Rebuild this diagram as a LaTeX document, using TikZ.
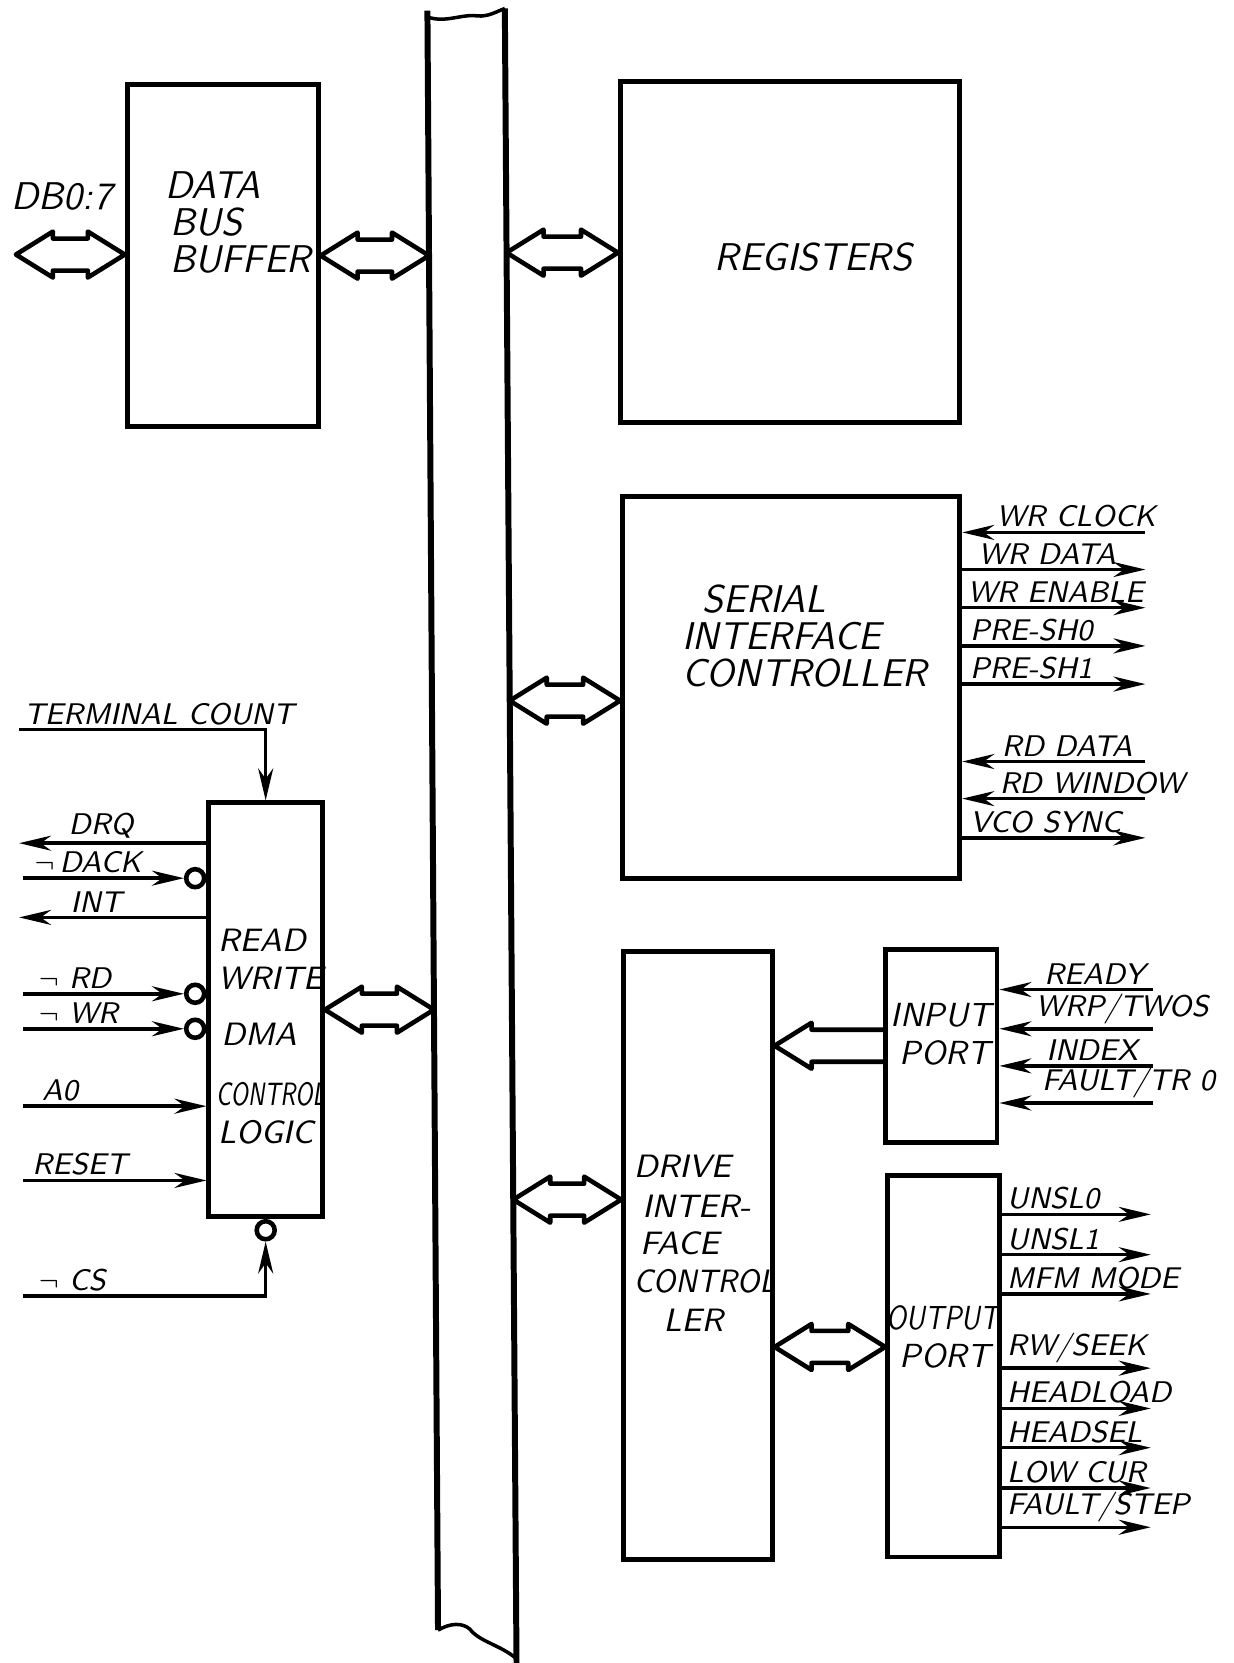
\documentclass[tikz,border=0pt]{standalone}
\usetikzlibrary{arrows.meta, positioning, fit, calc}

\newcommand{\headlen}{0.37cm}
\newcommand{\headwd}{0.23cm}
\newcommand{\shaftwd}{0.16cm}

\newcommand{\dblarrow}[2]{%
  \draw[fat] let \p1=(#1), \p2=(#2) in
    (\x1,\y1) -- (\x1+\headlen,\y1+\headwd) -- (\x1+\headlen,\y1+\shaftwd)
    -- (\x2-\headlen,\y1+\shaftwd) -- (\x2-\headlen,\y1+\headwd) -- (\x2,\y1)
    -- (\x2-\headlen,\y1-\headwd) -- (\x2-\headlen,\y1-\shaftwd)
    -- (\x1+\headlen,\y1-\shaftwd) -- (\x1+\headlen,\y1-\headwd) -- cycle;}

\newcommand{\fatarrow}[2]{%
  \draw[fat] let \p1=(#1), \p2=(#2) in
    (\x2,\y1+\shaftwd) -- (\x1+\headlen,\y1+\shaftwd) -- (\x1+\headlen,\y1+\headwd)
    -- (\x1,\y1) -- (\x1+\headlen,\y1-\headwd) -- (\x1+\headlen,\y1-\shaftwd)
    -- (\x2,\y1-\shaftwd);}

\begin{document}
\begin{tikzpicture}[x=0.0106cm, y=-0.0106cm,
    >={Stealth[length=3.2mm, width=1.5mm]},
    block/.style={draw, line width=1.4pt, inner sep=0pt},
    bus/.style={line width=1.7pt},
    fat/.style={line width=1.3pt, line join=round},
    sig/.style={line width=1pt},
    inward/.style={sig, <-},
    outward/.style={sig, ->},
    bubble/.style={circle, draw, line width=1.3pt, minimum size=0.18cm, inner sep=0pt},
    lbl/.style={anchor=south west, inner sep=1.2pt, font=\fontsize{8.5}{10}\selectfont\sffamily\slshape},
    bigtxt/.style={align=left, inner sep=0pt, font=\fontsize{11}{10.5}\selectfont\sffamily\slshape},
    midtxt/.style={anchor=west, inner sep=0pt, font=\fontsize{9.2}{11}\selectfont\sffamily\slshape},
    porttxt/.style={inner sep=0pt, font=\fontsize{9.5}{11}\selectfont\sffamily\slshape}
]
\useasboundingbox (0,0) rectangle (1163,1568);

\coordinate (busLt) at (403,10);
\coordinate (busLb) at (413,1537);
\coordinate (busRt) at (476,8);
\coordinate (busRb) at (487,1568);
\draw[bus] (busLt) -- (busLb);
\draw[bus] (busRt) -- (busRb);
\draw[line width=1pt] ($(busLt)+(0,6)$) .. controls (420,22) and (435,13) .. (450,15)
    .. controls (460,16) and (468,11) .. (busRt);
\draw[line width=1pt] (busLb) .. controls (425,1530) and (436,1530) .. (443,1536)
    .. controls (452,1548) and (472,1551) .. (487,1564);

\node[block, fit={(120,80) (300,402)}] (dbb) {};
\node[block, fit={(585,77) (905,398)}] (reg) {};
\node[block, fit={(587,468) (905,828)}] (sic) {};
\node[block, fit={(197,757) (304,1147)}] (rw) {};
\node[block, fit={(588,897) (728,1470)}] (dic) {};
\node[block, fit={(835,895) (940,1077)}] (inp) {};
\node[block, fit={(837,1108) (942,1468)}] (outp) {};

\node[bigtxt, anchor=west] at (155,210) {DATA\\\hspace*{0.05cm}BUS\\\hspace*{0.05cm}BUFFER};
\node[bigtxt] at (767,242) {REGISTERS};
\node[bigtxt, anchor=west] at (643,600) {\hspace*{0.2cm}SERIAL\\INTERFACE\\CONTROLLER};
\node[midtxt] at (205,887) {READ};
\node[midtxt] at (205,922) {WRITE};
\node[midtxt] at (208,975) {DMA};
\node[midtxt] at (203,1032) {\scalebox{0.7}[1]{CONTROL}};
\node[midtxt] at (205,1068) {LOGIC};
\node[midtxt] at (597,1100) {DRIVE};
\node[midtxt] at (605,1137) {INTER-};
\node[midtxt] at (603,1172) {FACE};
\node[midtxt] at (597,1208) {\scalebox{0.91}[1]{CONTROL}};
\node[midtxt] at (625,1245) {LER};
\node[porttxt] at (887,957) {INPUT};
\node[porttxt] at (891,993) {PORT};
\node[porttxt] at (889,1243) {\scalebox{0.82}[1]{OUTPUT}};
\node[porttxt] at (891,1278) {PORT};

\coordinate (db) at (15,240);
\node[anchor=west, inner sep=0pt, font=\fontsize{11}{12}\selectfont\sffamily\slshape] at (10,185) {DB0:7};
\dblarrow{db}{dbb.west}
\dblarrow{dbb.east}{$(busLt)!(dbb.east)!(busLb)$}
\dblarrow{$(busRt)!(reg.west)!(busRb)$}{reg.west}
\coordinate (sicin) at ($(sic.west)+(0,12)$);
\dblarrow{$(busRt)!(sicin)!(busRb)$}{sicin}
\dblarrow{rw.east}{$(busLt)!(rw.east)!(busLb)$}
\coordinate (dicin) at ($(dic.west)+(0,-53)$);
\dblarrow{$(busRt)!(dicin)!(busRb)$}{dicin}
\fatarrow{dic.east |- inp.west}{inp.west}
\coordinate (outin) at ($(outp.west)+(0,-18)$);
\dblarrow{dic.east |- outin}{outin}

\foreach \yy/\xx/\dir/\txt in {502/935/inward/WR CLOCK, 537/918/outward/WR DATA,
    573/908/outward/WR ENABLE, 609/910/outward/PRE-SH0, 645/910/outward/PRE-SH1,
    718/940/inward/RD DATA, 753/938/inward/RD WINDOW, 790/910/outward/VCO SYNC}{
  \coordinate (s\yy) at (1080,\yy);
  \draw[\dir] (sic.east |- s\yy) -- (s\yy);
  \node[lbl] at (\xx,\yy) {\txt};
}

\foreach \yy/\xx/\txt in {933/980/READY, 970/972/WRP\slash TWOS,
    1005/982/INDEX, 1040/978/FAULT\slash TR 0}{
  \coordinate (r\yy) at (1087,\yy);
  \draw[inward] (inp.east |- r\yy) -- (r\yy);
  \node[lbl] at (\xx,\yy) {\txt};
}

\foreach \yy/\txt in {1145/UNSL0, 1183/UNSL1, 1220/MFM MODE, 1290/RW\slash SEEK,
    1328/HEADLOAD, 1365/HEADSEL, 1403/LOW CUR, 1440/FAULT\slash STEP}{
  \coordinate (u\yy) at (1085,\yy);
  \draw[outward] (outp.east |- u\yy) -- (u\yy);
  \node[lbl] at (945,\yy) {\txt};
}

\coordinate (tc) at (18,688);
\draw[sig, ->] (tc) -| (rw.north);
\node[lbl] at (18,688) {TERMINAL COUNT};

\coordinate (drq) at (18,795);
\draw[outward] (rw.west |- drq) -- (drq);
\node[lbl] at (60,795) {DRQ};

\node[bubble, anchor=east] (bdack) at (rw.west |- 0,828) {};
\coordinate (dack) at (22,828);
\draw[sig, ->] (dack) -- (bdack.west);
\node[lbl] at (28,828) {$\neg$\,DACK};

\coordinate (int) at (18,865);
\draw[outward] (rw.west |- int) -- (int);
\node[lbl] at (62,865) {INT};

\node[bubble, anchor=east] (brd) at (rw.west |- 0,937) {};
\coordinate (rd) at (22,937);
\draw[sig, ->] (rd) -- (brd.west);
\node[lbl] at (32,937) {$\neg$\ RD};

\node[bubble, anchor=east] (bwr) at (rw.west |- 0,970) {};
\coordinate (wr) at (22,970);
\draw[sig, ->] (wr) -- (bwr.west);
\node[lbl] at (32,970) {$\neg$\ WR};

\coordinate (a0) at (22,1043);
\draw[sig, ->] (a0) -- (rw.west |- a0);
\node[lbl] at (35,1043) {A0};

\coordinate (reset) at (22,1113);
\draw[sig, ->] (reset) -- (rw.west |- reset);
\node[lbl] at (26,1113) {RESET};

\node[bubble, anchor=north] (bcs) at (rw.south) {};
\coordinate (cs) at (22,1222);
\draw[sig, ->] (cs) -| (bcs.south);
\node[lbl] at (32,1222) {$\neg$\ CS};

\end{tikzpicture}
\end{document}
